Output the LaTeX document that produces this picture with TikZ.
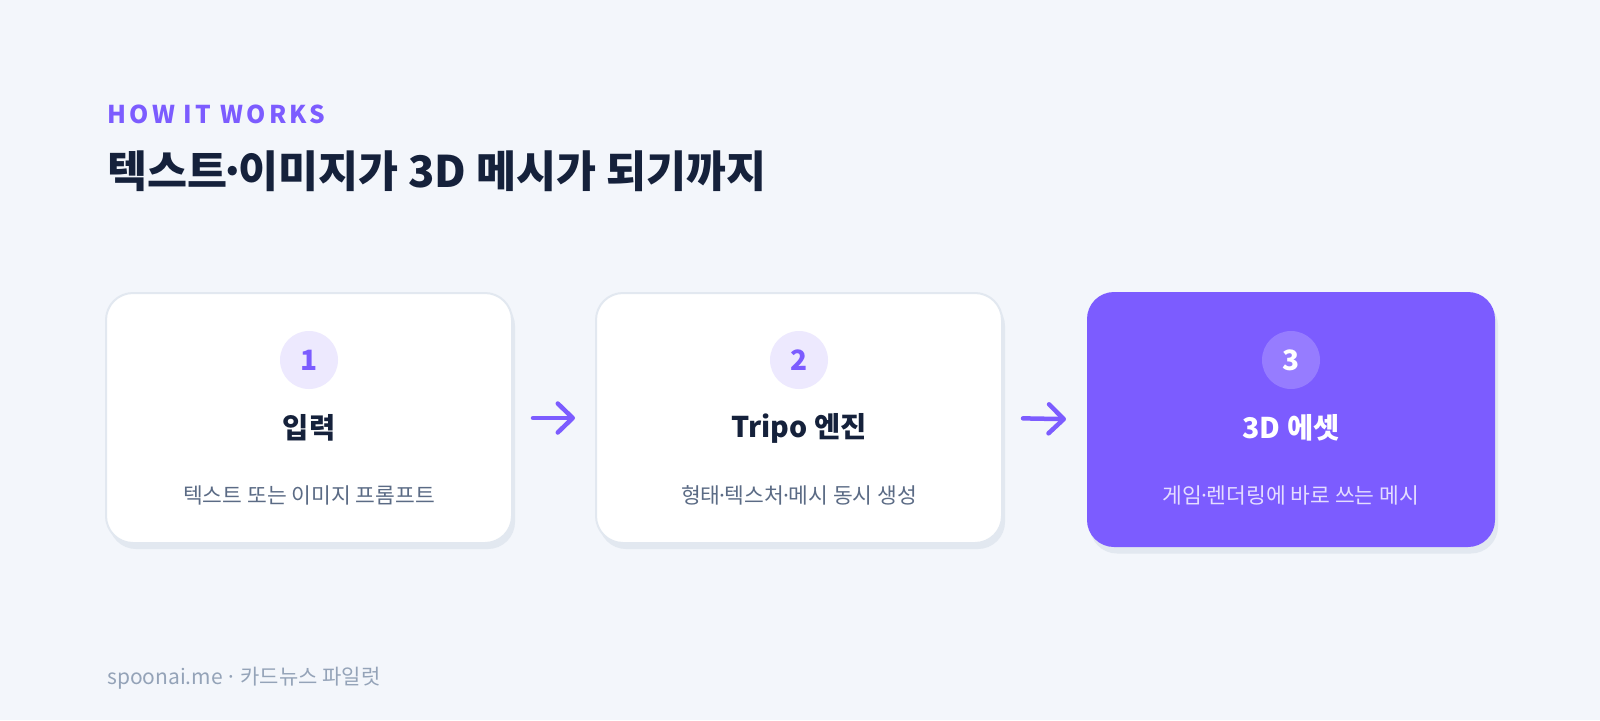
\documentclass[tikz,border=0pt]{standalone}
\usepackage{fontspec}
\setmainfont{Noto Sans CJK KR}
\usetikzlibrary{arrows.meta, positioning}

\definecolor{bgcol}{HTML}{F3F6FB}
\definecolor{purp}{HTML}{7C5CFF}
\definecolor{navy}{HTML}{15213B}
\definecolor{slate}{HTML}{5B6B85}
\definecolor{edgecol}{HTML}{E2E8F0}
\definecolor{lilac}{HTML}{EDE9FE}
\definecolor{footcol}{HTML}{94A3B8}
\definecolor{softwhite}{HTML}{E4DDFF}

% narrow middle dot
\newcommand\mdot{\kern-0.18em·\kern-0.18em}

\begin{document}
\begin{tikzpicture}[x=1pt, y=-1pt,
  card/.style={draw=edgecol, line width=2pt, fill=white, rounded corners=27pt,
    minimum width=406pt, minimum height=250pt, inner sep=0pt},
  shade/.style={fill=edgecol, rounded corners=27pt,
    minimum width=406pt, minimum height=250pt, inner sep=0pt},
  badge/.style={circle, fill=lilac, minimum size=58pt, inner sep=0pt,
    text=purp, font=\fontsize{28}{32}\selectfont\bfseries},
  head/.style={text=navy, font=\fontsize{28.5}{32}\selectfont\bfseries},
  sub/.style={text=slate, font=\fontsize{21.5}{25}\selectfont},
  flow/.style={purp, line width=4.5pt, line cap=round,
    -{Straight Barb[length=15pt, width=29pt, line join=round, line cap=round]},
    shorten <=20pt, shorten >=20pt}]

  % background
  \fill[bgcol] (0,0) rectangle (1600,720);

  % heading
  \node[anchor=west, inner sep=0pt, text=purp,
    font=\fontsize{24.5}{28}\selectfont\bfseries\addfontfeatures{LetterSpace=14}]
    (kicker) at (107,114) {HOW\hspace{0.35em}IT\hspace{0.35em}WORKS};
  \node[anchor=west, inner sep=0pt, text=navy,
    font=\fontsize{43.5}{50}\selectfont\bfseries]
    (title) at (107,171) {텍스트\mdot 이미지가 3D 메시가 되기까지};

  % shadows
  \node[shade] (input shadow) at (312,424) {};
  \node[shade] (engine shadow) at (802,424) {};
  \node[shade, minimum width=408pt, minimum height=255pt]
    (asset shadow) at (1294,426) {};

  % cards
  \node[card] (input) at (309,418) {};
  \node[card] (engine) at (799,418) {};
  \node[card, draw=none, fill=purp, minimum width=408pt, minimum height=255pt]
    (asset) at (1291,419.5) {};

  % step 1
  \node[badge] (one) at (309,360) {1};
  \node[head] (input title) at (309,428) {입력};
  \node[sub] (input text) at (309,495) {텍스트 또는 이미지 프롬프트};

  % step 2
  \node[badge] (two) at (799,360) {2};
  \node[head] (engine title) at (799,428) {Tripo 엔진};
  \node[sub] (engine text) at (799,495) {형태\mdot 텍스처\mdot 메시 동시 생성};

  % step 3
  \node[badge, fill=white, fill opacity=0.2, text opacity=1, text=white]
    (three) at (1291,360) {3};
  \node[head, text=white] (asset title) at (1291,428) {3D 에셋};
  \node[sub, text=softwhite] (asset text) at (1291,495) {게임\mdot 렌더링에 바로 쓰는 메시};

  % arrows
  \draw[flow] (input.east) -- (engine.west);
  \draw[flow] (engine.east) -- (asset.west);

  % footer
  \node[anchor=west, inner sep=0pt, text=footcol, font=\fontsize{21}{25}\selectfont]
    (footer) at (107,678) {spoonai.me \kern-0.08em·\kern-0.08em{} 카드뉴스 파일럿};

\end{tikzpicture}
\end{document}
